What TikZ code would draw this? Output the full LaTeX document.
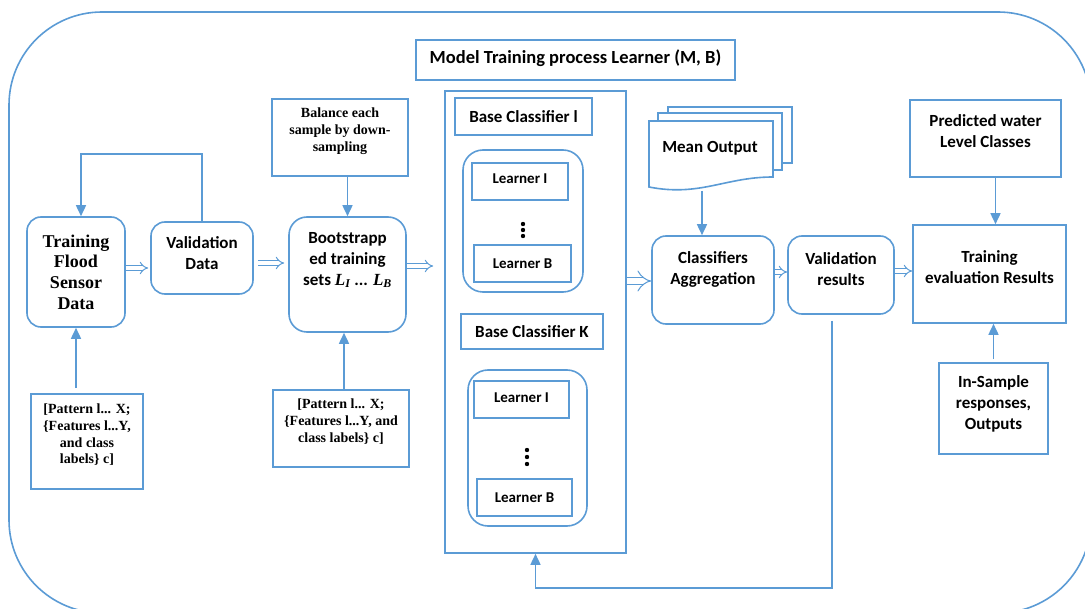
\documentclass[tikz,border=0pt]{standalone}
\usepackage{fontspec}
\setmainfont{Carlito}
\newfontfamily\tnr{Liberation Serif}
\usetikzlibrary{arrows.meta}
\definecolor{lblue}{HTML}{5B9BD5}

\begin{document}
\begin{tikzpicture}[
  x=1pt, y=-1pt,
  bx/.style={draw=lblue, line width=1.6pt, rectangle, inner sep=0pt},
  rb/.style={bx, rounded corners=14pt},
  tx/.style={font=\fontsize{17}{21}\selectfont\bfseries, align=center},
  lt/.style={font=\fontsize{15}{18}\selectfont\bfseries, align=center},
  tr/.style={font=\tnr\fontsize{14}{16.7}\selectfont\bfseries, align=center},
  ar/.style={draw=lblue, line width=1.6pt, -{Triangle[length=11pt,width=10pt]}},
  dar/.style={draw=lblue, double=white, line width=1pt, double distance=3.4pt, -{Implies}}
]
\useasboundingbox (0,0) rectangle (1085,609);

% outer frame
\begin{scope}
\clip (0,0) rectangle (1085,609);
\draw[lblue, line width=1.6pt, rounded corners=93pt] (9,12) rectangle (1091,613);
\end{scope}

\node[bx, minimum width=319pt, minimum height=40pt,
  label={[tx, font=\fontsize{18.5}{22}\selectfont\bfseries, yshift=2pt]center:Model Training process Learner (M, B)}] (title) at (575.5,60) {};

% input side
\node[rb, minimum width=98pt, minimum height=110pt,
  label={[font=\tnr\fontsize{18}{20.7}\selectfont\bfseries, align=center]center:Training\\Flood\\Sensor\\Data}] (train) at (76,272) {};
\node[rb, minimum width=102pt, minimum height=72pt,
  label={[tx, yshift=4.5pt]center:Validation\\Data}] (val) at (202,258) {};
\node[rb, minimum width=117pt, minimum height=115pt, rounded corners=18pt,
  label={[tx, yshift=14.5pt]center:Bootstrapp\\ed training\\sets {\tnr\itshape L\textsubscript{I}} ... {\tnr\itshape L\textsubscript{B}}}] (boot) at (347.5,274.5) {};
\node[bx, minimum width=136pt, minimum height=77pt,
  label={[tr, yshift=6.5pt]center:Balance each\\sample by down-\\sampling}] (bal) at (340,137.5) {};
\node[bx, minimum width=112pt, minimum height=95pt,
  label={[tr, yshift=6.5pt]center:[Pattern l... X;\\\{Features l...Y,\\and class\\labels\} c]}] (patL) at (87,441.5) {};
\node[bx, minimum width=136pt, minimum height=77pt,
  label={[tr, yshift=7pt]center:[Pattern l... X;\\\{Features l...Y, and\\class labels\} c]}] (patM) at (341,428.5) {};

% classifier ensemble
\node[bx, minimum width=181pt, minimum height=462pt] (big) at (535.5,322) {};
\node[bx, minimum width=137pt, minimum height=37pt,
  label={[tx]center:Base Classifier l}] (bc1) at (523.5,116.5) {};
\node[rb, minimum width=120pt, minimum height=142pt, rounded corners=20pt] (grp1) at (523,221) {};
\node[bx, minimum width=96pt, minimum height=37pt,
  label={[lt, yshift=2.5pt]center:Learner I}] (l1a) at (520,181.5) {};
\node[bx, minimum width=97pt, minimum height=37pt,
  label={[lt]center:Learner B}] (l1b) at (522.5,263.5) {};
\node[bx, minimum width=142pt, minimum height=35pt,
  label={[tx]center:Base Classifier K}] (bcK) at (532,331.5) {};
\node[rb, minimum width=119pt, minimum height=156pt, rounded corners=20pt] (grp2) at (527.5,448) {};
\node[bx, minimum width=95pt, minimum height=37pt,
  label={[lt, yshift=2pt]center:Learner I}] (l2a) at (521.5,399.5) {};
\node[bx, minimum width=95pt, minimum height=37pt,
  label={[lt]center:Learner B}] (l2b) at (524.5,497.5) {};
\foreach \y in {224,230,236} \fill (523,\y) circle (2.2pt);
\foreach \y in {450,457,464} \fill (527,\y) circle (2.2pt);

% mean output pages
\filldraw[draw=lblue, line width=1.6pt, fill=white] (668,107) rectangle (792,163);
\filldraw[draw=lblue, line width=1.6pt, fill=white] (658,113) rectangle (782,170);
\filldraw[draw=lblue, line width=1.6pt, fill=white] (649,121) -- (773,121) -- (773,177)
  .. controls (725,177) and (700,197) .. (649,187) -- cycle;
\node[tx] (mo) at (710,148) {Mean Output};
\coordinate (mob) at (702,191);

% output side
\node[rb, minimum width=122pt, minimum height=88pt,
  label={[tx, yshift=11pt]center:Classifiers\\Aggregation}] (agg) at (713,280) {};
\node[rb, minimum width=106pt, minimum height=78pt,
  label={[tx, yshift=6pt]center:Validation\\results}] (vres) at (841,275) {};
\node[bx, minimum width=153pt, minimum height=98pt,
  label={[tx, yshift=6.5pt]center:Training\\evaluation Results}] (tev) at (989.5,274) {};
\node[bx, minimum width=151pt, minimum height=77pt,
  label={[tx, yshift=7.5pt]center:Predicted water\\Level Classes}] (pred) at (985.5,138.5) {};
\node[bx, minimum width=109pt, minimum height=91pt,
  label={[tx, yshift=5pt]center:In-Sample\\responses,\\Outputs}] (ins) at (993.5,408.5) {};

% single arrows
\draw[ar] (val.north) -- ++(0,-67) -| ([xshift=5pt]train.north);
\draw[ar] (bal.south -| boot.north) -- (boot.north);
\draw[ar] ([yshift=5pt]train.south |- patL.north) -- (train.south);
\draw[ar] ([xshift=3pt]patM.north) -- ([xshift=3pt]patM.north |- boot.south);
\draw[ar] (mob) -- (mob |- agg.north);
\draw[ar] ([xshift=10pt]pred.south) -- ([xshift=10pt]pred.south |- tev.north);
\draw[ar] ([yshift=3pt]ins.north) -- (ins.north |- tev.south);
\coordinate (fb) at (832,588);
\draw[ar] ([xshift=-9pt,yshift=-6pt]vres.south) |- (fb) -| (big.south);

% hollow arrows
\draw[dar] (train.east |- 0,268) -- ([xshift=-2pt]val.west |- 0,268);
\draw[dar] ([xshift=4pt]val.east |- 0,263) -- ([xshift=-4pt]boot.west |- 0,263);
\draw[dar] (boot.east |- 0,266) -- ([xshift=-11pt]big.west |- 0,266);
\draw[dar, double distance=6.5pt] (big.east |- 0,281) -- (agg.west |- 0,281);
\draw[dar] (agg.east |- 0,272) -- (vres.west |- 0,272);
\draw[dar] (vres.east |- 0,271) -- (tev.west |- 0,271);
\end{tikzpicture}
\end{document}
